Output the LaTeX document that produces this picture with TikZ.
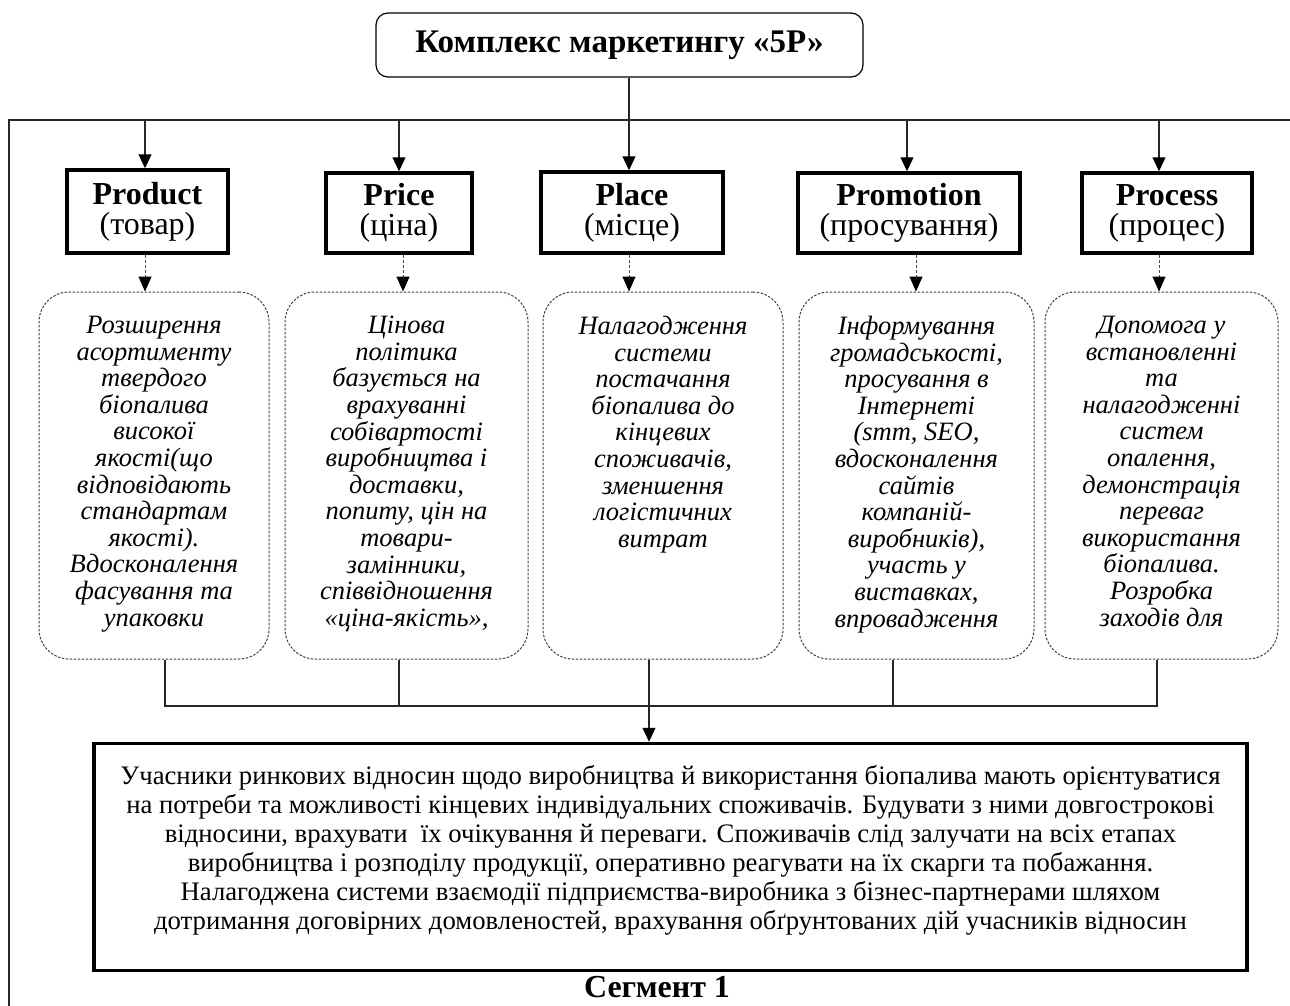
\documentclass[tikz,border=0pt]{standalone}
\usepackage{fontspec}
\setmainfont{Liberation Serif}
\usetikzlibrary{arrows.meta}
\begin{document}
\begin{tikzpicture}[x=1pt,y=-1pt,
  titlebox/.style={draw, line width=1.2pt, rounded corners=12pt, inner sep=0pt, font=\fontsize{33}{38}\selectfont\bfseries},
  pbox/.style={draw, line width=3.5pt, inner sep=0pt, align=center, font=\fontsize{32}{30}\selectfont},
  rbox/.style={draw=black!75, line width=1pt, dash pattern=on 2.5pt off 1.5pt, rounded corners=30pt, inner sep=0pt},
  rtext/.style={anchor=north, inner sep=0pt, align=center, font=\fontsize{26.5}{26.6}\selectfont\itshape},
  bigbox/.style={draw, line width=3.5pt, inner sep=0pt},
  btext/.style={anchor=north, inner sep=0pt, align=center, font=\fontsize{26.7}{29}\selectfont},
  conn/.style={line width=1.2pt, black!85},
  arr/.style={conn, -{Triangle[width=13pt,length=14pt,color=black,fill=black]}},
  darr/.style={line width=1pt, black!70, dash pattern=on 3pt off 2pt, -{Triangle[width=13pt,length=15pt,color=black,fill=black]}},
  segm/.style={anchor=base, inner sep=0pt, font=\fontsize{32}{36}\selectfont\bfseries}
]
\useasboundingbox (0,0) rectangle (1290,1006);

% top box
\node[titlebox, minimum width=487pt, minimum height=64pt] (top) at (619.5,45) {Комплекс маркетингу «5Р»};

% frame
\coordinate (fb) at (9,1006);
\coordinate (fl) at (9,120);
\coordinate (fr) at (1290,120);
\draw[conn] (fb) -- (fl) -- (fr);

% label boxes
\node[pbox, minimum width=161pt, minimum height=83pt] (b1) at (147.5,211.5) {\textbf{Product}\\(товар)};
\node[pbox, minimum width=146pt, minimum height=80pt] (b2) at (399,213) {\textbf{Price}\\(ціна)};
\node[pbox, minimum width=182pt, minimum height=81pt] (b3) at (632,212.5) {\textbf{Place}\\(місце)};
\node[pbox, minimum width=222pt, minimum height=80pt] (b4) at (909,213) {\textbf{Promotion}\\(просування)};
\node[pbox, minimum width=170pt, minimum height=80pt] (b5) at (1167,213) {\textbf{Process}\\(процес)};

% rounded boxes
\node[rbox, minimum width=230pt, minimum height=367pt] (r1) at (154,475.5) {};
\node[rbox, minimum width=243pt, minimum height=367pt] (r2) at (406.5,475.5) {};
\node[rbox, minimum width=240pt, minimum height=367pt] (r3) at (663,475.5) {};
\node[rbox, minimum width=235pt, minimum height=367pt] (r4) at (916.5,475.5) {};
\node[rbox, minimum width=233pt, minimum height=367pt] (r5) at (1161.5,475.5) {};

\node[rtext] (t1) at (154,316) {Розширення\\асортименту\\твердого\\біопалива\\високої\\якості(що\\відповідають\\стандартам\\якості).\\Вдосконалення\\фасування та\\упаковки};
\node[rtext] (t2) at (406.5,316) {Цінова\\політика\\базується на\\врахуванні\\собівартості\\виробництва і\\доставки,\\попиту, цін на\\товари-\\замінники,\\співвідношення\\«ціна-якість»,};
\node[rtext] (t3) at (663,316) {Налагодження\\системи\\постачання\\біопалива до\\кінцевих\\споживачів,\\зменшення\\логістичних\\витрат};
\node[rtext] (t4) at (916.5,316) {Інформування\\громадськості,\\просування в\\Інтернеті\\(smm, SEO,\\вдосконалення\\сайтів\\компаній-\\виробників),\\участь у\\виставках,\\впровадження};
\node[rtext] (t5) at (1161.5,316) {Допомога у\\встановленні\\та\\налагодженні\\систем\\опалення,\\демонстрація\\переваг\\використання\\біопалива.\\Розробка\\заходів для};

% bottom box
\node[bigbox, minimum width=1153pt, minimum height=227pt] (bot) at (670.5,857) {};
\node[btext] (bt) at (670.5,765) {Учасники ринкових відносин щодо виробництва й використання біопалива мають орієнтуватися\\
на потреби та можливості кінцевих індивідуальних споживачів. Будувати з ними довгострокові\\
відносини, врахувати\ \ їх очікування й переваги. Споживачів слід залучати на всіх етапах\\
виробництва і розподілу продукції, оперативно реагувати на їх скарги та побажання.\\
Налагоджена системи взаємодії підприємства-виробника з бізнес-партнерами шляхом\\
дотримання договірних домовленостей, врахування обґрунтованих дій учасників відносин};
\node[segm] (seg) at (657,997) {Сегмент 1};

% x positions
\coordinate (ax1) at (145,0);
\coordinate (ax2) at (399,0);
\coordinate (ax3) at (629,0);
\coordinate (ax4) at (907,0);
\coordinate (ax5) at (1159,0);
\coordinate (dx1) at (145,0);
\coordinate (dx2) at (403,0);
\coordinate (dx3) at (629,0);
\coordinate (dx4) at (916,0);
\coordinate (dx5) at (1159,0);
\coordinate (cx1) at (165,0);
\coordinate (cx2) at (399,0);
\coordinate (cx3) at (649,0);
\coordinate (cx4) at (893,0);
\coordinate (cx5) at (1157,0);
\coordinate (hy) at (0,706);

% arrows from frame / top
\draw[arr] (ax3 |- top.south) -- (ax3 |- b3.north);
\draw[arr] (ax1 |- fl) -- (ax1 |- b1.north);
\draw[arr] (ax2 |- fl) -- (ax2 |- b2.north);
\draw[arr] (ax4 |- fl) -- (ax4 |- b4.north);
\draw[arr] (ax5 |- fl) -- (ax5 |- b5.north);

% dashed arrows
\draw[darr] (dx1 |- b1.south) -- (dx1 |- r1.north);
\draw[darr] (dx2 |- b2.south) -- (dx2 |- r2.north);
\draw[darr] (dx3 |- b3.south) -- (dx3 |- r3.north);
\draw[darr] (dx4 |- b4.south) -- (dx4 |- r4.north);
\draw[darr] (dx5 |- b5.south) -- (dx5 |- r5.north);

% bottom connectors
\draw[conn] (cx1 |- r1.south) -- (cx1 |- hy) -- (cx5 |- hy) -- (cx5 |- r5.south);
\draw[conn] (cx2 |- r2.south) -- (cx2 |- hy);
\draw[conn] (cx4 |- r4.south) -- (cx4 |- hy);
\draw[arr] (cx3 |- r3.south) -- (cx3 |- bot.north);
\end{tikzpicture}
\end{document}
